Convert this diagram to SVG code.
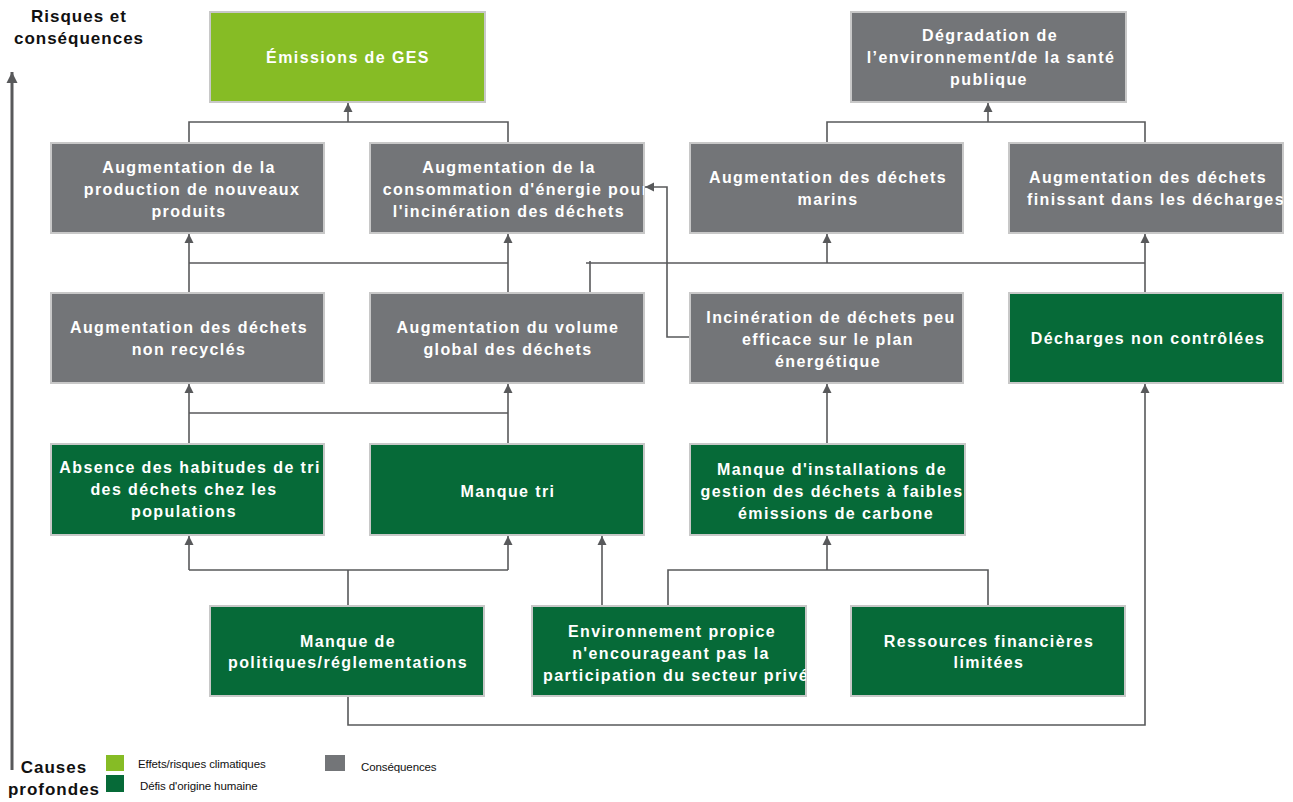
<svg xmlns="http://www.w3.org/2000/svg" width="1293" height="802" viewBox="0 0 1293 802">
<style>
.box{stroke:#c8c8c8;stroke-width:2}
.lg{fill:#86bc25}
.dg{fill:#066a38}
.gr{fill:#737578}
.t{font-family:"Liberation Sans",Arial,sans-serif;font-weight:bold;font-size:16px;fill:#ffffff;letter-spacing:1.4px;text-anchor:middle}
.h{font-family:"Liberation Sans",Arial,sans-serif;font-weight:bold;font-size:17px;fill:#111111;letter-spacing:1px;text-anchor:middle}
.l{font-family:"Liberation Sans",Arial,sans-serif;font-size:11.5px;fill:#111111;letter-spacing:-0.1px}
.c{fill:none;stroke:#58595b;stroke-width:1.6}
.a{fill:none;stroke:#58595b;stroke-width:1.6;marker-end:url(#ah)}
</style>
<defs>
<marker id="ah" markerUnits="userSpaceOnUse" markerWidth="10" markerHeight="10" refX="9" refY="5" orient="auto">
<path d="M0,0.5 L9,5 L0,9.5 Z" fill="#58595b"/>
</marker>
<marker id="axh" markerUnits="userSpaceOnUse" markerWidth="12" markerHeight="12" refX="11" refY="6" orient="auto">
<path d="M0,0.5 L11,6 L0,11.5 Z" fill="#58595b"/>
</marker>
<clipPath id="cp1"><rect x="370" y="143" width="274" height="90"/></clipPath>
<clipPath id="cp2"><rect x="1009" y="143" width="274" height="90"/></clipPath>
<clipPath id="cp3"><rect x="532" y="606" width="274" height="90"/></clipPath>
</defs>
<rect x="0" y="0" width="1293" height="802" fill="#ffffff"/>

<g id="axis">
<line x1="12" y1="770" x2="12" y2="72" stroke="#58595b" stroke-width="3" marker-end="url(#axh)"/>
<text class="h" x="79" y="22">Risques et</text>
<text class="h" x="79" y="44">conséquences</text>
<text class="h" x="54" y="773">Causes</text>
<text class="h" x="54" y="795">profondes</text>
</g>

<g id="legend">
<rect x="106" y="755" width="18" height="16" class="lg"/>
<rect x="106" y="775" width="18" height="17" class="dg"/>
<rect x="325" y="755" width="20" height="16" class="gr"/>
<text class="l" x="138" y="768">Effets/risques climatiques</text>
<text class="l" x="140" y="790">Défis d'origine humaine</text>
<text class="l" x="361" y="771">Conséquences</text>
</g>

<g id="connectors">
<path class="c" d="M189,143 V122 H508 V143"/>
<path class="a" d="M348,122 V103"/>
<path class="c" d="M827,143 V122 H1145 V143"/>
<path class="a" d="M988,122 V103"/>
<path class="c" d="M189,263 H508"/>
<path class="a" d="M189,293 V234"/>
<path class="a" d="M508,293 V234"/>
<path class="c" d="M590,293 V261"/>
<path class="c" d="M586,263 H1145"/>
<path class="a" d="M827,263 V234"/>
<path class="a" d="M1145,293 V234"/>
<path class="a" d="M690,337 H667 V187 H645"/>
<path class="c" d="M189,413 H508"/>
<path class="a" d="M189,444 V384"/>
<path class="a" d="M508,444 V384"/>
<path class="a" d="M827,444 V384"/>
<path class="c" d="M348,606 V570 M189,570 H508"/>
<path class="a" d="M189,570 V536"/>
<path class="a" d="M508,570 V536"/>
<path class="a" d="M602,606 V536"/>
<path class="c" d="M668,606 V570 H988 V606"/>
<path class="a" d="M827,570 V536"/>
<path class="a" d="M348,696 V725 H1145 V384"/>
</g>

<g id="n_ges">
<rect class="box lg" x="210" y="12" width="275" height="90"/>
<text class="t" x="348" y="63">Émissions de GES</text>
</g>
<g id="n_degradation">
<rect class="box gr" x="851" y="12" width="275" height="90"/>
<text class="t" x="990" y="41">Dégradation de</text>
<text class="t" x="991" y="63">l’environnement/de la santé</text>
<text class="t" x="989" y="85">publique</text>
</g>

<g id="n_production">
<rect class="box gr" x="51" y="143" width="273" height="90"/>
<text class="t" x="189" y="173">Augmentation de la</text>
<text class="t" x="192" y="195">production de nouveaux</text>
<text class="t" x="189" y="217">produits</text>
</g>
<g id="n_energie">
<rect class="box gr" x="370" y="143" width="274" height="90"/>
<g clip-path="url(#cp1)">
<text class="t" x="509" y="173">Augmentation de la</text>
<text class="t" x="516" y="195">consommation d'énergie pour</text>
<text class="t" x="509" y="217">l'incinération des déchets</text>
</g>
</g>
<g id="n_marins">
<rect class="box gr" x="690" y="143" width="273" height="90"/>
<text class="t" x="828" y="183">Augmentation des déchets</text>
<text class="t" x="828" y="205">marins</text>
</g>
<g id="n_decharges_fin">
<rect class="box gr" x="1009" y="143" width="274" height="90"/>
<g clip-path="url(#cp2)">
<text class="t" x="1148" y="183">Augmentation des déchets</text>
<text class="t" x="1156" y="205">finissant dans les décharges</text>
</g>
</g>

<g id="n_non_recycles">
<rect class="box gr" x="51" y="293" width="273" height="90"/>
<text class="t" x="189" y="333">Augmentation des déchets</text>
<text class="t" x="189" y="355">non recyclés</text>
</g>
<g id="n_volume">
<rect class="box gr" x="370" y="293" width="274" height="90"/>
<text class="t" x="508" y="333">Augmentation du volume</text>
<text class="t" x="508" y="355">global des déchets</text>
</g>
<g id="n_incineration">
<rect class="box gr" x="690" y="293" width="273" height="90"/>
<text class="t" x="831" y="323">Incinération de déchets peu</text>
<text class="t" x="828" y="345">efficace sur le plan</text>
<text class="t" x="828" y="367">énergétique</text>
</g>
<g id="n_decharges_nc">
<rect class="box dg" x="1009" y="293" width="274" height="90"/>
<text class="t" x="1148" y="344">Décharges non contrôlées</text>
</g>

<g id="n_habitudes">
<rect class="box dg" x="51" y="444" width="273" height="91"/>
<text class="t" x="190" y="473">Absence des habitudes de tri</text>
<text class="t" x="184" y="495">des déchets chez les</text>
<text class="t" x="184" y="517">populations</text>
</g>
<g id="n_manque_tri">
<rect class="box dg" x="370" y="444" width="274" height="91"/>
<text class="t" x="508" y="497">Manque tri</text>
</g>
<g id="n_installations">
<rect class="box dg" x="690" y="444" width="275" height="91"/>
<text class="t" x="832" y="475">Manque d'installations de</text>
<text class="t" x="832" y="497">gestion des déchets à faibles</text>
<text class="t" x="836" y="519">émissions de carbone</text>
</g>

<g id="n_politiques">
<rect class="box dg" x="210" y="606" width="274" height="90"/>
<text class="t" x="348" y="647">Manque de</text>
<text class="t" x="348" y="668">politiques/réglementations</text>
</g>
<g id="n_environnement">
<rect class="box dg" x="532" y="606" width="274" height="90"/>
<g clip-path="url(#cp3)">
<text class="t" x="672" y="637">Environnement propice</text>
<text class="t" x="671" y="659">n'encourageant pas la</text>
<text class="t" x="676" y="681">participation du secteur privé</text>
</g>
</g>
<g id="n_ressources">
<rect class="box dg" x="851" y="606" width="274" height="90"/>
<text class="t" x="989" y="647">Ressources financières</text>
<text class="t" x="989" y="668">limitées</text>
</g>
</svg>
